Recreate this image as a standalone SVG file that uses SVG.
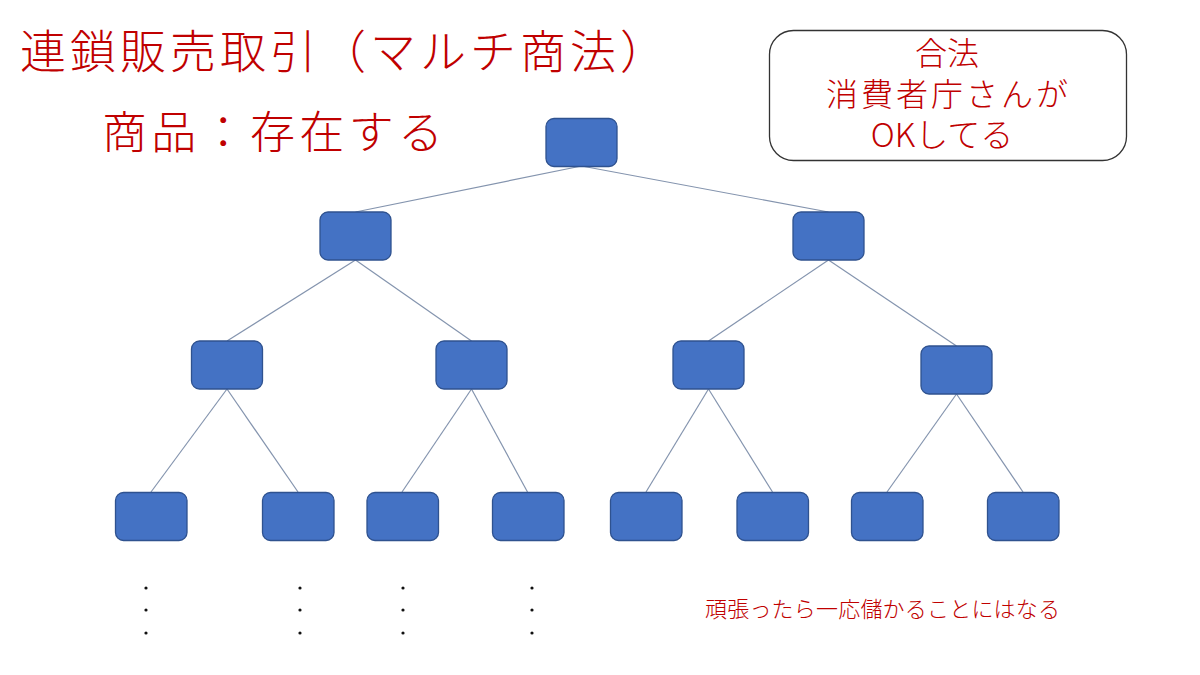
<svg xmlns="http://www.w3.org/2000/svg" width="1200" height="675" viewBox="0 0 1200 675">
<style>
.n{fill:#4472C4;stroke:#2F528F;stroke-width:1.3}
.c line{stroke:#8494AE;stroke-width:1.2}
.t{fill:#C00000;font-family:"Noto Sans CJK JP","Noto Sans",sans-serif;font-weight:300}
.d circle{fill:#111}
</style>
<rect width="1200" height="675" fill="#fff"/>
<g id="title"><text class="t" x="20" y="68" font-size="46" textLength="646" lengthAdjust="spacing">連鎖販売取引（マルチ商法）</text></g>
<g id="subtitle"><text class="t" x="102" y="149" font-size="45" textLength="341" lengthAdjust="spacing">商品：存在する</text></g>
<g id="note">
<rect x="769.5" y="30.5" width="357" height="130" rx="24" fill="#fff" stroke="#333" stroke-width="1.3"/>
<text class="t" font-size="32" text-anchor="middle" x="947" y="65">合法</text>
<text class="t" font-size="32" text-anchor="middle" x="947" y="106" textLength="242" lengthAdjust="spacing">消費者庁さんが</text>
<text class="t" font-size="33" text-anchor="middle" x="942" y="147">OKしてる</text>
</g>
<g id="connectors" class="c">
<line x1="581.5" y1="166" x2="355.5" y2="212"/>
<line x1="581.5" y1="166" x2="828.5" y2="212"/>
<line x1="355.5" y1="260" x2="227" y2="341"/>
<line x1="355.5" y1="260" x2="471.5" y2="341"/>
<line x1="828.5" y1="260" x2="708.5" y2="341"/>
<line x1="828.5" y1="260" x2="956.5" y2="346"/>
<line x1="227" y1="389" x2="151" y2="492"/>
<line x1="227" y1="389" x2="298" y2="492"/>
<line x1="471.5" y1="389" x2="402" y2="492"/>
<line x1="471.5" y1="389" x2="527.5" y2="492"/>
<line x1="708.5" y1="389" x2="646" y2="492"/>
<line x1="708.5" y1="389" x2="772.5" y2="492"/>
<line x1="956.5" y1="394" x2="887" y2="492"/>
<line x1="956.5" y1="394" x2="1023" y2="492"/>
</g>
<g id="n0"><rect class="n" x="546" y="118.5" width="71" height="48" rx="8"/></g>
<g id="n1"><rect class="n" x="320" y="212" width="71" height="48" rx="8"/></g>
<g id="n2"><rect class="n" x="793" y="212" width="71" height="48" rx="8"/></g>
<g id="n3"><rect class="n" x="191.5" y="341" width="71" height="48" rx="8"/></g>
<g id="n4"><rect class="n" x="436" y="341" width="71" height="48" rx="8"/></g>
<g id="n5"><rect class="n" x="673" y="341" width="71" height="48" rx="8"/></g>
<g id="n6"><rect class="n" x="921" y="346" width="71" height="48" rx="8"/></g>
<g id="n7"><rect class="n" x="115.5" y="492.5" width="71.5" height="48" rx="8"/></g>
<g id="n8"><rect class="n" x="262.5" y="492.5" width="71.5" height="48" rx="8"/></g>
<g id="n9"><rect class="n" x="367" y="492.5" width="71.5" height="48" rx="8"/></g>
<g id="n10"><rect class="n" x="492.5" y="492.5" width="71.5" height="48" rx="8"/></g>
<g id="n11"><rect class="n" x="610.5" y="492.5" width="71.5" height="48" rx="8"/></g>
<g id="n12"><rect class="n" x="737" y="492.5" width="71.5" height="48" rx="8"/></g>
<g id="n13"><rect class="n" x="851.5" y="492.5" width="71.5" height="48" rx="8"/></g>
<g id="n14"><rect class="n" x="987.5" y="492.5" width="71.5" height="48" rx="8"/></g>
<g id="dots" class="d">
<circle cx="146" cy="588" r="1.6"/><circle cx="146" cy="610" r="1.6"/><circle cx="146" cy="633" r="1.6"/>
<circle cx="300" cy="588" r="1.6"/><circle cx="300" cy="610" r="1.6"/><circle cx="300" cy="633" r="1.6"/>
<circle cx="403" cy="588" r="1.6"/><circle cx="403" cy="610" r="1.6"/><circle cx="403" cy="633" r="1.6"/>
<circle cx="532" cy="588" r="1.6"/><circle cx="532" cy="610" r="1.6"/><circle cx="532" cy="633" r="1.6"/>
</g>
<g id="caption"><text class="t" x="705" y="617" font-size="22" textLength="355" lengthAdjust="spacing">頑張ったら一応儲かることにはなる</text></g>
</svg>
